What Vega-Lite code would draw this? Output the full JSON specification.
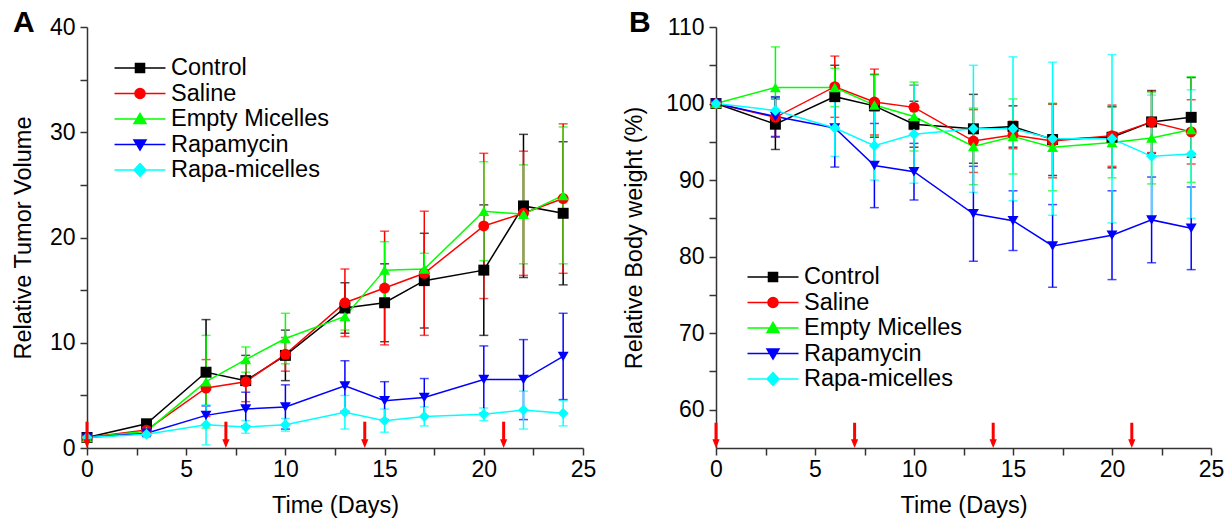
{
  "$schema": "https://vega.github.io/schema/vega-lite/v6.json",
  "padding": {"left": 11, "top": 8, "right": 5, "bottom": 5},
  "bounds": "flush",
  "spacing": 133,
  "background": "white",
  "datasets": {
    "tumor": [
      {"s": "Control", "t": 0, "v": 1.0, "e": 0.1},
      {"s": "Control", "t": 3, "v": 2.3, "e": 0.3},
      {"s": "Control", "t": 6, "v": 7.2, "e": 5.0},
      {"s": "Control", "t": 8, "v": 6.4, "e": 2.4},
      {"s": "Control", "t": 10, "v": 8.8, "e": 2.4},
      {"s": "Control", "t": 13, "v": 13.3, "e": 2.4},
      {"s": "Control", "t": 15, "v": 13.8, "e": 3.7},
      {"s": "Control", "t": 17, "v": 15.9, "e": 4.5},
      {"s": "Control", "t": 20, "v": 16.9, "e": 6.2},
      {"s": "Control", "t": 22, "v": 23.0, "e": 6.8},
      {"s": "Control", "t": 24, "v": 22.3, "e": 6.8},
      {"s": "Saline", "t": 0, "v": 1.0, "e": 0.1},
      {"s": "Saline", "t": 3, "v": 1.7, "e": 0.3},
      {"s": "Saline", "t": 6, "v": 5.7, "e": 2.7},
      {"s": "Saline", "t": 8, "v": 6.3, "e": 1.9},
      {"s": "Saline", "t": 10, "v": 8.9, "e": 1.6},
      {"s": "Saline", "t": 13, "v": 13.8, "e": 3.2},
      {"s": "Saline", "t": 15, "v": 15.2, "e": 5.4},
      {"s": "Saline", "t": 17, "v": 16.6, "e": 5.9},
      {"s": "Saline", "t": 20, "v": 21.1, "e": 6.9},
      {"s": "Saline", "t": 22, "v": 22.3, "e": 5.9},
      {"s": "Saline", "t": 24, "v": 23.7, "e": 7.1},
      {"s": "Empty Micelles", "t": 0, "v": 1.0, "e": 0.1},
      {"s": "Empty Micelles", "t": 3, "v": 1.6, "e": 0.3},
      {"s": "Empty Micelles", "t": 6, "v": 6.3, "e": 4.4},
      {"s": "Empty Micelles", "t": 8, "v": 8.4, "e": 1.2},
      {"s": "Empty Micelles", "t": 10, "v": 10.4, "e": 2.4},
      {"s": "Empty Micelles", "t": 13, "v": 12.5, "e": 1.3},
      {"s": "Empty Micelles", "t": 15, "v": 16.9, "e": 2.7},
      {"s": "Empty Micelles", "t": 17, "v": 17.0, "e": 1.5},
      {"s": "Empty Micelles", "t": 20, "v": 22.5, "e": 4.7},
      {"s": "Empty Micelles", "t": 22, "v": 22.2, "e": 4.7},
      {"s": "Empty Micelles", "t": 24, "v": 24.0, "e": 6.5},
      {"s": "Rapamycin", "t": 0, "v": 1.0, "e": 0.1},
      {"s": "Rapamycin", "t": 3, "v": 1.4, "e": 0.3},
      {"s": "Rapamycin", "t": 6, "v": 3.1, "e": 0.9},
      {"s": "Rapamycin", "t": 8, "v": 3.7, "e": 1.6},
      {"s": "Rapamycin", "t": 10, "v": 3.9, "e": 2.1},
      {"s": "Rapamycin", "t": 13, "v": 5.9, "e": 2.4},
      {"s": "Rapamycin", "t": 15, "v": 4.5, "e": 1.8},
      {"s": "Rapamycin", "t": 17, "v": 4.8, "e": 1.8},
      {"s": "Rapamycin", "t": 20, "v": 6.5, "e": 3.2},
      {"s": "Rapamycin", "t": 22, "v": 6.5, "e": 3.8},
      {"s": "Rapamycin", "t": 24, "v": 8.7, "e": 4.1},
      {"s": "Rapa-micelles", "t": 0, "v": 1.0, "e": 0.1},
      {"s": "Rapa-micelles", "t": 3, "v": 1.3, "e": 0.3},
      {"s": "Rapa-micelles", "t": 6, "v": 2.2, "e": 1.9},
      {"s": "Rapa-micelles", "t": 8, "v": 2.0, "e": 0.6},
      {"s": "Rapa-micelles", "t": 10, "v": 2.2, "e": 0.6},
      {"s": "Rapa-micelles", "t": 13, "v": 3.4, "e": 1.6},
      {"s": "Rapa-micelles", "t": 15, "v": 2.6, "e": 1.1},
      {"s": "Rapa-micelles", "t": 17, "v": 3.0, "e": 0.9},
      {"s": "Rapa-micelles", "t": 20, "v": 3.2, "e": 0.6},
      {"s": "Rapa-micelles", "t": 22, "v": 3.6, "e": 1.8},
      {"s": "Rapa-micelles", "t": 24, "v": 3.3, "e": 1.2}
    ],
    "weight": [
      {"s": "Control", "t": 0, "v": 100, "e": 0},
      {"s": "Control", "t": 3, "v": 97.3, "e": 3.3},
      {"s": "Control", "t": 6, "v": 100.9, "e": 4.1},
      {"s": "Control", "t": 8, "v": 99.7, "e": 4.1},
      {"s": "Control", "t": 10, "v": 97.3, "e": 3.0},
      {"s": "Control", "t": 13, "v": 96.7, "e": 4.5},
      {"s": "Control", "t": 15, "v": 97.0, "e": 2.7},
      {"s": "Control", "t": 17, "v": 95.3, "e": 4.7},
      {"s": "Control", "t": 20, "v": 95.6, "e": 4.0},
      {"s": "Control", "t": 22, "v": 97.6, "e": 4.1},
      {"s": "Control", "t": 24, "v": 98.2, "e": 5.2},
      {"s": "Saline", "t": 0, "v": 100, "e": 0},
      {"s": "Saline", "t": 3, "v": 98.2, "e": 2.6},
      {"s": "Saline", "t": 6, "v": 102.2, "e": 4.0},
      {"s": "Saline", "t": 8, "v": 100.2, "e": 4.3},
      {"s": "Saline", "t": 10, "v": 99.5, "e": 2.9},
      {"s": "Saline", "t": 13, "v": 95.1, "e": 4.1},
      {"s": "Saline", "t": 15, "v": 95.9, "e": 1.8},
      {"s": "Saline", "t": 17, "v": 95.1, "e": 4.8},
      {"s": "Saline", "t": 20, "v": 95.8, "e": 4.0},
      {"s": "Saline", "t": 22, "v": 97.6, "e": 4.0},
      {"s": "Saline", "t": 24, "v": 96.3, "e": 4.2},
      {"s": "Empty Micelles", "t": 0, "v": 100, "e": 0},
      {"s": "Empty Micelles", "t": 3, "v": 102.1, "e": 5.3},
      {"s": "Empty Micelles", "t": 6, "v": 102.1, "e": 2.5},
      {"s": "Empty Micelles", "t": 8, "v": 99.8, "e": 4.0},
      {"s": "Empty Micelles", "t": 10, "v": 98.3, "e": 4.5},
      {"s": "Empty Micelles", "t": 13, "v": 94.4, "e": 5.0},
      {"s": "Empty Micelles", "t": 15, "v": 95.7, "e": 4.9},
      {"s": "Empty Micelles", "t": 17, "v": 94.3, "e": 5.7},
      {"s": "Empty Micelles", "t": 20, "v": 94.9, "e": 4.6},
      {"s": "Empty Micelles", "t": 22, "v": 95.5, "e": 6.0},
      {"s": "Empty Micelles", "t": 24, "v": 96.6, "e": 6.9},
      {"s": "Rapamycin", "t": 0, "v": 100, "e": 0},
      {"s": "Rapamycin", "t": 3, "v": 98.3, "e": 2.6},
      {"s": "Rapamycin", "t": 6, "v": 96.8, "e": 5.1},
      {"s": "Rapamycin", "t": 8, "v": 91.9, "e": 5.5},
      {"s": "Rapamycin", "t": 10, "v": 91.1, "e": 3.7},
      {"s": "Rapamycin", "t": 13, "v": 85.6, "e": 6.2},
      {"s": "Rapamycin", "t": 15, "v": 84.7, "e": 3.9},
      {"s": "Rapamycin", "t": 17, "v": 81.4, "e": 5.4},
      {"s": "Rapamycin", "t": 20, "v": 82.8, "e": 5.8},
      {"s": "Rapamycin", "t": 22, "v": 84.8, "e": 5.6},
      {"s": "Rapamycin", "t": 24, "v": 83.7, "e": 5.4},
      {"s": "Rapa-micelles", "t": 0, "v": 100, "e": 0},
      {"s": "Rapa-micelles", "t": 3, "v": 99.1, "e": 1.5},
      {"s": "Rapa-micelles", "t": 6, "v": 96.8, "e": 3.7},
      {"s": "Rapa-micelles", "t": 8, "v": 94.5, "e": 4.5},
      {"s": "Rapa-micelles", "t": 10, "v": 96.0, "e": 6.4},
      {"s": "Rapa-micelles", "t": 13, "v": 96.7, "e": 8.3},
      {"s": "Rapa-micelles", "t": 15, "v": 96.7, "e": 9.4},
      {"s": "Rapa-micelles", "t": 17, "v": 95.4, "e": 10.0},
      {"s": "Rapa-micelles", "t": 20, "v": 95.4, "e": 11.0},
      {"s": "Rapa-micelles", "t": 22, "v": 93.1, "e": 8.0},
      {"s": "Rapa-micelles", "t": 24, "v": 93.4, "e": 8.4}
    ],
    "doses": [{"t": 0}, {"t": 7}, {"t": 14}, {"t": 21}]
  },
  "config": {
    "font": "Liberation Sans",
    "view": {"stroke": null},
    "axis": {
      "grid": false,
      "labelFont": "Liberation Sans",
      "titleFont": "Liberation Sans",
      "labelFontSize": 23,
      "titleFontSize": 23.5,
      "titleFontWeight": "normal",
      "labelColor": "#000000",
      "titleColor": "#000000",
      "domainColor": "#333333",
      "tickColor": "#333333",
      "domainWidth": 1.5,
      "tickWidth": 1.5,
      "tickSize": 7,
      "labelPadding": 5,
      "labelFlush": false
    },
    "legend": {
      "labelFont": "Liberation Sans",
      "labelFontSize": 23.5,
      "labelColor": "#000000",
      "padding": 0,
      "rowPadding": 0.5,
      "labelOffset": 18
    },
    "title": {"font": "Liberation Sans", "fontSize": 30, "fontWeight": "bold", "color": "#000000"}
  },
  "resolve": {
    "scale": {"color": "independent", "shape": "independent", "x": "independent", "y": "independent"},
    "legend": {"color": "independent", "shape": "independent"}
  },
  "hconcat": [
    {
      "width": 496,
      "height": 421,
      "title": {"text": "A", "anchor": "start", "frame": "group", "dx": -74, "dy": 22, "offset": 0},
      "layer": [
        {
          "data": {"name": "tumor"},
          "mark": {"type": "errorbar", "ticks": {"size": 9, "thickness": 1.5}, "thickness": 1.5},
          "encoding": {
            "x": {"field": "t", "type": "quantitative", "title": "Time (Days)"},
            "y": {"field": "v", "type": "quantitative", "title": "Relative Tumor Volume"},
            "yError": {"field": "e"},
            "color": {"field": "s", "type": "nominal"}
          }
        },
        {
          "data": {"name": "tumor"},
          "mark": {"type": "line", "strokeWidth": 1.5},
          "encoding": {
            "x": {"field": "t", "type": "quantitative", "title": "Time (Days)"},
            "y": {"field": "v", "type": "quantitative", "title": "Relative Tumor Volume"},
            "color": {"field": "s", "type": "nominal"}
          }
        },
        {
          "data": {"name": "tumor"},
          "mark": {"type": "point", "filled": true, "opacity": 1, "size": 120},
          "encoding": {
            "x": {"field": "t", "type": "quantitative", "title": "Time (Days)",
              "scale": {"domain": [0, 25], "nice": false},
              "axis": {"values": [0, 2.5, 5, 7.5, 10, 12.5, 15, 17.5, 20, 22.5, 25], "labelExpr": "datum.value % 5 === 0 ? datum.label : ''", "labelPadding": 3, "titlePadding": 12}},
            "y": {"field": "v", "type": "quantitative", "title": "Relative Tumor Volume",
              "scale": {"domain": [0, 40], "nice": false},
              "axis": {"values": [0, 5, 10, 15, 20, 25, 30, 35, 40], "labelExpr": "datum.value % 10 === 0 ? datum.label : ''", "titlePadding": 14}},
            "color": {"field": "s", "type": "nominal",
              "scale": {"domain": ["Control", "Saline", "Empty Micelles", "Rapamycin", "Rapa-micelles"], "range": ["#000000", "#FF0000", "#00FF00", "#0000FF", "#00FFFF"]},
              "legend": {"title": null, "orient": "none", "legendX": 40, "legendY": 28, "symbolSize": 600, "symbolStrokeWidth": 1.5,
                "encoding": {"symbols": {
                  "shape": {"value": {"expr": "datum.value === 'Control' ? 'M-2.08,0H2.08M-0.37,-0.37H0.37V0.37H-0.37Z' : datum.value === 'Saline' ? 'M-2.08,0H2.08M-0.41,0A0.41,0.41,0,1,0,0.41,0A0.41,0.41,0,1,0,-0.41,0Z' : datum.value === 'Empty Micelles' ? 'M-2.08,0H2.08M0,-0.45L0.49,0.37L-0.49,0.37Z' : datum.value === 'Rapamycin' ? 'M-2.08,0H2.08M0,0.45L0.49,-0.37L-0.49,-0.37Z' : 'M-2.08,0H2.08M0,-0.53L0.49,0L0,0.53L-0.49,0Z'"}},
                  "stroke": {"value": {"expr": "datum.value === 'Control' ? '#000000' : datum.value === 'Saline' ? '#FF0000' : datum.value === 'Empty Micelles' ? '#00FF00' : datum.value === 'Rapamycin' ? '#0000FF' : '#00FFFF'"}},
                  "fill": {"value": {"expr": "datum.value === 'Control' ? '#000000' : datum.value === 'Saline' ? '#FF0000' : datum.value === 'Empty Micelles' ? '#00FF00' : datum.value === 'Rapamycin' ? '#0000FF' : '#00FFFF'"}},
                  "strokeWidth": {"value": 1.5},
                  "opacity": {"value": 1}
                }}}},
            "shape": {"field": "s", "type": "nominal", "legend": null,
              "scale": {"domain": ["Rapa-micelles", "Rapamycin", "Empty Micelles", "Saline", "Control"], "range": ["diamond", "triangle-down", "triangle-up", "circle", "square"]}}
          }
        },
        {
          "data": {"name": "doses"},
          "mark": {"type": "rule", "color": "#FF0000", "strokeWidth": 3},
          "encoding": {
            "x": {"field": "t", "type": "quantitative", "title": "Time (Days)"},
            "y": {"datum": 2.5, "title": "Relative Tumor Volume"},
            "y2": {"datum": 0.5}
          }
        },
        {
          "data": {"name": "doses"},
          "mark": {"type": "point", "filled": true, "opacity": 1, "color": "#FF0000", "size": 64, "shape": "M-0.9,-2.2L0.9,-2.2L0,0Z"},
          "encoding": {
            "x": {"field": "t", "type": "quantitative", "title": "Time (Days)"},
            "y": {"datum": 0, "title": "Relative Tumor Volume"}
          }
        }
      ]
    },
    {
      "width": 495,
      "height": 421,
      "title": {"text": "B", "anchor": "start", "frame": "group", "dx": -87, "dy": 22, "offset": 0},
      "layer": [
        {
          "data": {"name": "weight"},
          "mark": {"type": "errorbar", "ticks": {"size": 9, "thickness": 1.5}, "thickness": 1.5},
          "encoding": {
            "x": {"field": "t", "type": "quantitative", "title": "Time (Days)"},
            "y": {"field": "v", "type": "quantitative", "title": "Relative Body weight (%)"},
            "yError": {"field": "e"},
            "color": {"field": "s", "type": "nominal"}
          }
        },
        {
          "data": {"name": "weight"},
          "mark": {"type": "line", "strokeWidth": 1.5},
          "encoding": {
            "x": {"field": "t", "type": "quantitative", "title": "Time (Days)"},
            "y": {"field": "v", "type": "quantitative", "title": "Relative Body weight (%)"},
            "color": {"field": "s", "type": "nominal"}
          }
        },
        {
          "data": {"name": "weight"},
          "mark": {"type": "point", "filled": true, "opacity": 1, "size": 120},
          "encoding": {
            "x": {"field": "t", "type": "quantitative", "title": "Time (Days)",
              "scale": {"domain": [0, 25], "nice": false},
              "axis": {"values": [0, 2.5, 5, 7.5, 10, 12.5, 15, 17.5, 20, 22.5, 25], "labelExpr": "datum.value % 5 === 0 ? datum.label : ''", "labelPadding": 3, "titlePadding": 12}},
            "y": {"field": "v", "type": "quantitative", "title": "Relative Body weight (%)",
              "scale": {"domain": [55, 110], "nice": false, "zero": false},
              "axis": {"values": [60, 65, 70, 75, 80, 85, 90, 95, 100, 105, 110], "labelExpr": "datum.value % 10 === 0 ? datum.label : ''", "titlePadding": 19}},
            "color": {"field": "s", "type": "nominal",
              "scale": {"domain": ["Control", "Saline", "Empty Micelles", "Rapamycin", "Rapa-micelles"], "range": ["#000000", "#FF0000", "#00FF00", "#0000FF", "#00FFFF"]},
              "legend": {"title": null, "orient": "none", "legendX": 44, "legendY": 237, "symbolSize": 600, "symbolStrokeWidth": 1.5,
                "encoding": {"symbols": {
                  "shape": {"value": {"expr": "datum.value === 'Control' ? 'M-2.08,0H2.08M-0.37,-0.37H0.37V0.37H-0.37Z' : datum.value === 'Saline' ? 'M-2.08,0H2.08M-0.41,0A0.41,0.41,0,1,0,0.41,0A0.41,0.41,0,1,0,-0.41,0Z' : datum.value === 'Empty Micelles' ? 'M-2.08,0H2.08M0,-0.45L0.49,0.37L-0.49,0.37Z' : datum.value === 'Rapamycin' ? 'M-2.08,0H2.08M0,0.45L0.49,-0.37L-0.49,-0.37Z' : 'M-2.08,0H2.08M0,-0.53L0.49,0L0,0.53L-0.49,0Z'"}},
                  "stroke": {"value": {"expr": "datum.value === 'Control' ? '#000000' : datum.value === 'Saline' ? '#FF0000' : datum.value === 'Empty Micelles' ? '#00FF00' : datum.value === 'Rapamycin' ? '#0000FF' : '#00FFFF'"}},
                  "fill": {"value": {"expr": "datum.value === 'Control' ? '#000000' : datum.value === 'Saline' ? '#FF0000' : datum.value === 'Empty Micelles' ? '#00FF00' : datum.value === 'Rapamycin' ? '#0000FF' : '#00FFFF'"}},
                  "strokeWidth": {"value": 1.5},
                  "opacity": {"value": 1}
                }}}},
            "shape": {"field": "s", "type": "nominal", "legend": null,
              "scale": {"domain": ["Rapa-micelles", "Rapamycin", "Empty Micelles", "Saline", "Control"], "range": ["diamond", "triangle-down", "triangle-up", "circle", "square"]}}
          }
        },
        {
          "data": {"name": "doses"},
          "mark": {"type": "rule", "color": "#FF0000", "strokeWidth": 3},
          "encoding": {
            "x": {"field": "t", "type": "quantitative", "title": "Time (Days)"},
            "y": {"datum": 58.3, "title": "Relative Body weight (%)"},
            "y2": {"datum": 55.5}
          }
        },
        {
          "data": {"name": "doses"},
          "mark": {"type": "point", "filled": true, "opacity": 1, "color": "#FF0000", "size": 64, "shape": "M-0.9,-2.2L0.9,-2.2L0,0Z"},
          "encoding": {
            "x": {"field": "t", "type": "quantitative", "title": "Time (Days)"},
            "y": {"datum": 55, "title": "Relative Body weight (%)"}
          }
        }
      ]
    }
  ]
}
